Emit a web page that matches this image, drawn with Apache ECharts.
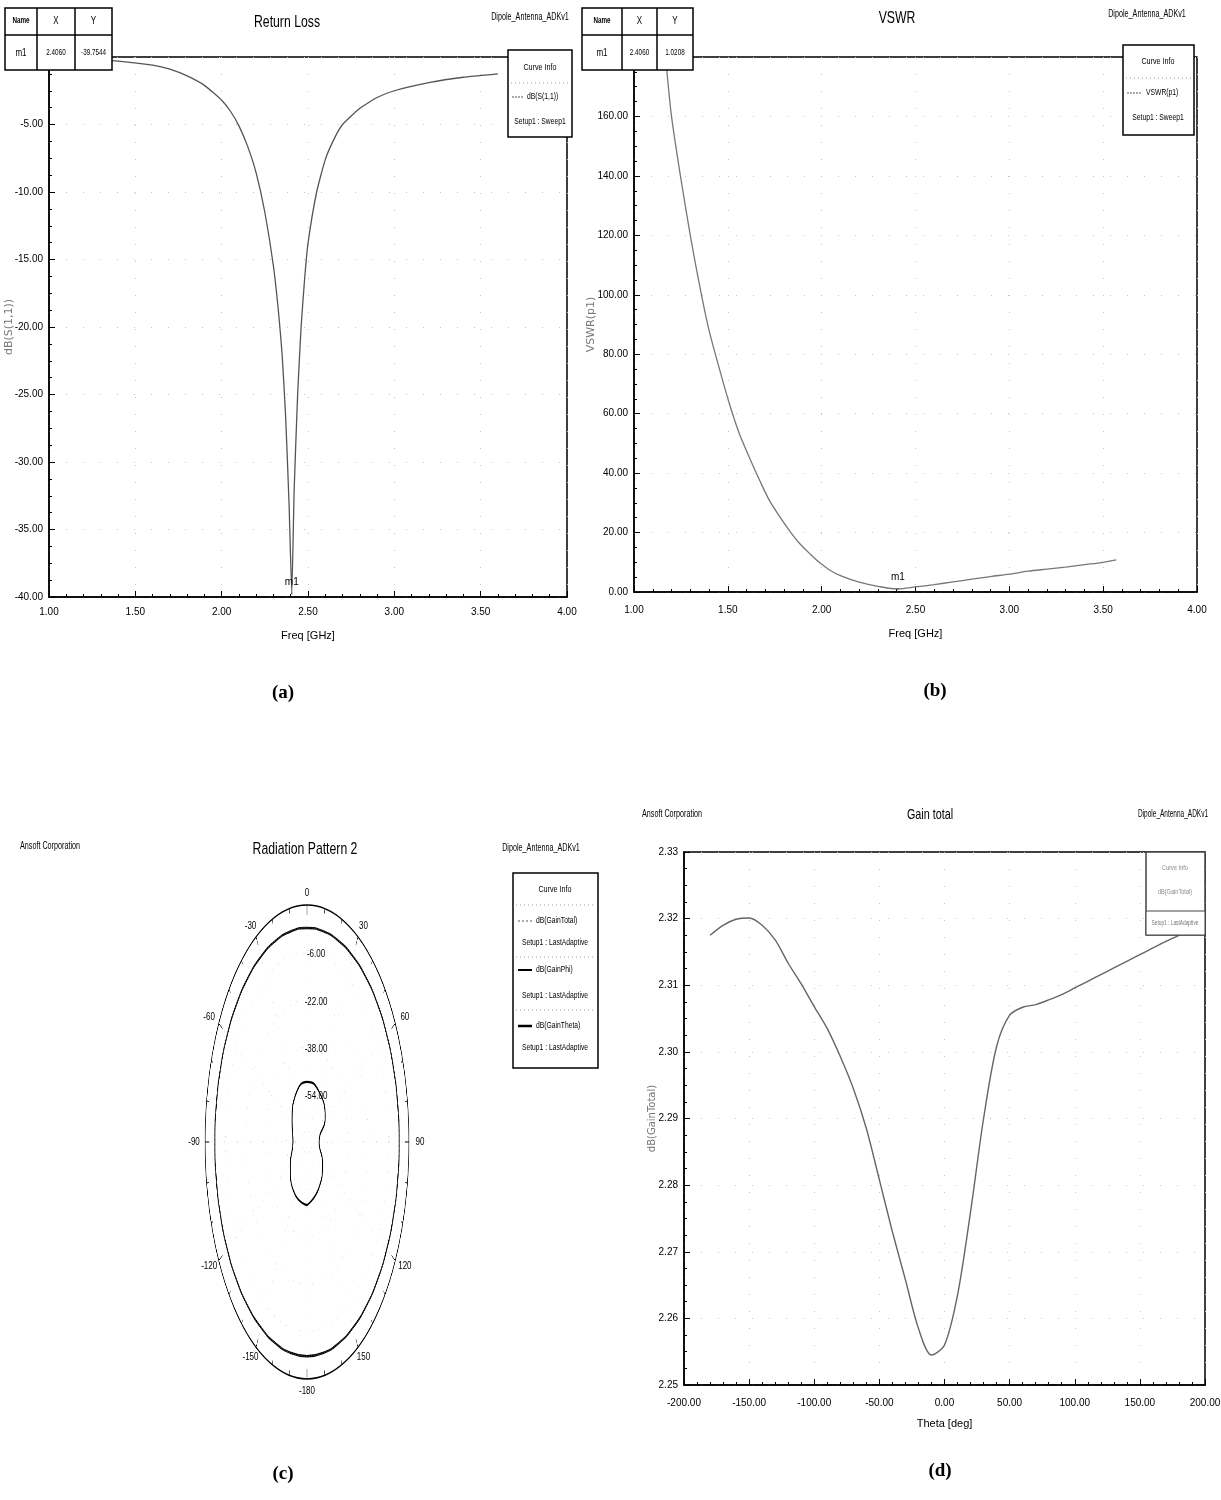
<!DOCTYPE html>
<html>
<head>
<meta charset="utf-8">
<title>Dipole antenna results</title>
<script src="https://cdn.jsdelivr.net/npm/echarts@6/dist/echarts.min.js"></script>
<style>
  html, body { margin: 0; padding: 0; background: #fff; }
  #wrap { position: relative; width: 1221px; height: 1500px; }
  #main { position: absolute; left: 0; top: 0; width: 1221px; height: 1500px; }
  #polar { position: absolute; left: 57px; top: 892px; width: 500px; height: 500px;
           transform: scaleX(0.43); transform-origin: 250px 250px; }
</style>
</head>
<body>
<div id="wrap">
  <div id="main"></div>
  <div id="polar"></div>
</div>
<script>
// (a) return loss, dB(S(1,1)) vs Freq [GHz]
const freqRL = [1.00, 1.20, 1.40, 1.60, 1.70, 1.80, 1.90, 2.00, 2.05, 2.10, 2.15, 2.20, 2.25, 2.30, 2.33, 2.35, 2.37, 2.39, 2.406,
                2.42, 2.44, 2.46, 2.48, 2.50, 2.55, 2.60, 2.65, 2.70, 2.80, 2.90, 3.00, 3.20, 3.40, 3.60];
const s11 = [-0.05, -0.15, -0.3, -0.6, -0.9, -1.4, -2.1, -3.2, -4.0, -5.1, -6.6, -8.6, -11.5, -15.5, -19.0, -22.0, -26.5, -33.0, -39.75,
             -32.0, -25.0, -20.0, -16.5, -13.8, -10.0, -7.6, -6.1, -5.0, -3.8, -3.0, -2.5, -1.9, -1.5, -1.25];

// (b) VSWR(p1) vs Freq [GHz]
const freqVSWR = [1.17, 1.20, 1.25, 1.30, 1.35, 1.40, 1.46, 1.51, 1.56, 1.62, 1.67, 1.72, 1.78, 1.83, 1.88, 1.94, 1.99, 2.04, 2.10,
                  2.20, 2.30, 2.406, 2.50, 2.60, 2.70, 2.80, 2.90, 3.00, 3.10, 3.20, 3.30, 3.40, 3.50, 3.57];
const vswr = [179, 160, 139, 120, 103, 88, 74, 63, 53.5, 44.5, 37.5, 31, 25, 20.5, 16.5, 12.7, 9.8, 7.5, 5.5,
              3.3, 1.9, 1.02, 1.7, 2.5, 3.4, 4.3, 5.2, 6.0, 7.0, 7.7, 8.4, 9.2, 10.0, 10.8];

// (d) dB(GainTotal) vs Theta [deg]  (also the GainTotal / GainPhi ring in (c))
const theta = [-180, -170, -160, -150, -140, -130, -120, -110, -100, -90, -80, -70, -60, -50, -40, -30, -20, -10, 0,
               10, 20, 30, 40, 50, 60, 70, 80, 90, 100, 110, 120, 130, 140, 150, 160, 170, 180];
const gainTotal = [2.3175, 2.3190, 2.3199, 2.3201, 2.3190, 2.3168, 2.3133, 2.3102, 2.3068, 2.3035, 2.2993, 2.2945, 2.2885,
                   2.2808, 2.2730, 2.2658, 2.2585, 2.2545, 2.2560, 2.2635, 2.2760, 2.2900, 2.3008, 2.3055, 2.3067, 2.3071,
                   2.3078, 2.3086, 2.3096, 2.3106, 2.3116, 2.3126, 2.3136, 2.3146, 2.3156, 2.3166, 2.3175];

// (c) dB(GainTheta) on the polar plot
const thetaPolar = [-180, -150, -120, -90, -60, -30, 0, 30, 60, 90, 120, 150, 180];
const gainTheta = [-48.7, -50.1, -54.8, -59.0, -56.5, -51.8, -49.7, -50.6, -53.5, -60.5, -55.9, -51.8, -48.7];

// tick labels
const angleLabels = [0, 30, 60, 90, 120, 150, -180, -150, -120, -90, -60, -30];
const radialLabels = [-6, -22, -38, -54];

const m1 = { x: 2.4060, rl: -39.7544, vswr: 1.0208 };

const FONT = '"Liberation Sans Narrow", "Liberation Sans", sans-serif';
const fix2 = v => v.toFixed(2);

function valueAxis(grid, min, max, step, minorSplit, name, gap, extra) {
  return Object.assign({
    type: 'value', gridIndex: grid, min: min, max: max, interval: step,
    name: name, nameLocation: 'middle', nameGap: gap, nameMoveOverlap: false,
    nameTextStyle: { fontFamily: FONT, fontSize: 11, color: '#000' },
    axisLine: { show: true, onZero: false, lineStyle: { color: '#000', width: 1.5 } },
    axisTick: { show: true, inside: true, length: 6, lineStyle: { color: '#000', width: 1 } },
    minorTick: { show: true, splitNumber: minorSplit, length: 3, lineStyle: { color: '#000', width: 1 } },
    axisLabel: { formatter: fix2, fontFamily: FONT, fontSize: 10, color: '#000', margin: 6 },
    splitLine: { show: true, lineStyle: { color: '#c4c4c4', width: 1, type: [1, 16] } }
  }, extra || {});
}

// ---- graphic helpers (titles, tables, legends, captions)
const G = [];
function txt(x, y, s, o) {
  o = o || {};
  G.push({ type: 'text', x: x, y: y, z: 50, scaleX: o.sx || 0.8, style: {
    text: s, fontFamily: o.font || FONT, fontSize: o.size || 10, fontWeight: o.weight || 'normal',
    fill: o.color || '#000', align: o.align || 'center', verticalAlign: 'middle' } });
}
function line(x1, y1, x2, y2, o) {
  o = o || {};
  G.push({ type: 'line', z: 50, shape: { x1: x1, y1: y1, x2: x2, y2: y2 },
    style: { stroke: o.color || '#000', lineWidth: o.w || 1, lineDash: o.dash || null } });
}
function box(x, y, w, h, o) {
  o = o || {};
  G.push({ type: 'rect', z: 49, shape: { x: x, y: y, width: w, height: h },
    style: { fill: '#fff', stroke: o.color || '#000', lineWidth: o.w || 1.5 } });
}
function markerTable(x, y, cw, xv, yv) {
  const w = cw[0] + cw[1] + cw[2];
  box(x, y, w, 62);
  line(x, y + 27, x + w, y + 27, { w: 1.5 });
  line(x + cw[0], y, x + cw[0], y + 62, { w: 1.5 });
  line(x + cw[0] + cw[1], y, x + cw[0] + cw[1], y + 62, { w: 1.5 });
  const c = [x + cw[0] / 2, x + cw[0] + cw[1] / 2, x + cw[0] + cw[1] + cw[2] / 2];
  txt(c[0], y + 13, 'Name', { size: 9, weight: 'bold', sx: 0.7 });
  txt(c[1], y + 13, 'X', { size: 10 });
  txt(c[2], y + 13, 'Y', { size: 10 });
  txt(c[0], y + 45, 'm1', { size: 10 });
  txt(c[1], y + 45, xv.toFixed(4), { size: 9, sx: 0.7 });
  txt(c[2], y + 45, yv.toFixed(4), { size: 9, sx: 0.7 });
}
const serif = { size: 19, weight: 'bold', font: '"Liberation Serif", serif', sx: 1 };

// (a)
txt(287, 22, 'Return Loss', { size: 17, sx: 0.72 });
txt(530, 17, 'Dipole_Antenna_ADKv1', { size: 10, sx: 0.72 });
markerTable(5, 8, [32, 38, 37], m1.x, m1.rl);
box(508, 50, 64, 87);
txt(540, 68, 'Curve Info', { size: 9 });
line(511, 83, 569, 83, { color: '#999', dash: [1, 3] });
line(512, 97, 524, 97, { color: '#555', w: 1, dash: [2, 1] });
txt(527, 97, 'dB(S(1,1))', { size: 9, align: 'left', sx: 0.75 });
txt(540, 122, 'Setup1 : Sweep1', { size: 9, sx: 0.75 });
txt(283, 693, '(a)', serif);

// (b)
txt(897, 18, 'VSWR', { size: 17, sx: 0.72 });
txt(1147, 14, 'Dipole_Antenna_ADKv1', { size: 10, sx: 0.72 });
markerTable(582, 8, [40, 35, 36], m1.x, m1.vswr);
box(1123, 45, 71, 90);
txt(1158, 62, 'Curve Info', { size: 9 });
line(1126, 78, 1191, 78, { color: '#999', dash: [1, 3] });
line(1127, 93, 1141, 93, { color: '#555', w: 1, dash: [2, 1] });
txt(1146, 93, 'VSWR(p1)', { size: 9, align: 'left', sx: 0.75 });
txt(1158, 118, 'Setup1 : Sweep1', { size: 9, sx: 0.75 });
txt(935, 691, '(b)', serif);

// (c)
txt(50, 846, 'Ansoft Corporation', { size: 10, sx: 0.72 });
txt(305, 849, 'Radiation Pattern 2', { size: 17, sx: 0.72 });
txt(541, 848, 'Dipole_Antenna_ADKv1', { size: 10, sx: 0.72 });
box(513, 873, 85, 195);
txt(555, 890, 'Curve Info', { size: 9 });
line(516, 905, 595, 905, { color: '#999', dash: [1, 3] });
line(518, 921, 532, 921, { color: '#555', w: 1, dash: [2, 2] });
txt(536, 921, 'dB(GainTotal)', { size: 9, align: 'left', sx: 0.75 });
txt(555, 943, 'Setup1 : LastAdaptive', { size: 9, sx: 0.75 });
line(516, 957, 595, 957, { color: '#999', dash: [1, 3] });
line(518, 970, 532, 970, { w: 2 });
txt(536, 970, 'dB(GainPhi)', { size: 9, align: 'left', sx: 0.75 });
txt(555, 996, 'Setup1 : LastAdaptive', { size: 9, sx: 0.75 });
line(516, 1010, 595, 1010, { color: '#999', dash: [1, 3] });
line(518, 1026, 532, 1026, { w: 2.5 });
txt(536, 1026, 'dB(GainTheta)', { size: 9, align: 'left', sx: 0.75 });
txt(555, 1048, 'Setup1 : LastAdaptive', { size: 9, sx: 0.75 });
txt(283, 1474, '(c)', serif);

// polar labels (the polar plot itself is stretched, so its text is drawn here)
const pc = { x: 307, y: 1142, rx: 102, ry: 237, rMin: -70, rMax: 10 };
angleLabels.forEach(function (a) {
  const t = a * Math.PI / 180;
  txt(pc.x + (pc.rx + 11) * Math.sin(t), pc.y - (pc.ry + 12) * Math.cos(t), String(a), { size: 10, sx: 0.8 });
});
radialLabels.forEach(function (v) {
  const r = (v - pc.rMin) / (pc.rMax - pc.rMin) * pc.ry;
  txt(pc.x + 9, pc.y - r + 2, v.toFixed(2), { size: 10, sx: 0.8 });
});

// (d)
txt(672, 814, 'Ansoft Corporation', { size: 10, sx: 0.72 });
txt(930, 815, 'Gain total', { size: 15, sx: 0.72 });
txt(1173, 814, 'Dipole_Antenna_ADKv1', { size: 10, sx: 0.65 });
box(1146, 852, 59, 83, { color: '#444', w: 1.5 });
txt(1175, 868, 'Curve Info', { size: 8, color: '#888', sx: 0.7 });
txt(1175, 892, 'dB(GainTotal)', { size: 8, color: '#888', sx: 0.7 });
box(1146, 911, 59, 24, { color: '#444', w: 1 });
txt(1175, 923, 'Setup1 : LastAdaptive', { size: 8, color: '#777', sx: 0.6 });
txt(940, 1471, '(d)', serif);

const gridBox = { show: true, borderColor: '#000', borderWidth: 1.5, backgroundColor: 'transparent', outerBoundsMode: 'none' };
const yName = { fontFamily: '"DejaVu Sans", sans-serif', fontSize: 11, color: '#777' };

const option = {
  animation: false,
  backgroundColor: '#fff',
  grid: [
    Object.assign({ left: 49, top: 57, width: 518, height: 540 }, gridBox),
    Object.assign({ left: 634, top: 57, width: 563, height: 535 }, gridBox),
    Object.assign({ left: 684, top: 852, width: 521, height: 533 }, gridBox)
  ],
  xAxis: [
    valueAxis(0, 1, 4, 0.5, 5, 'Freq [GHz]', 33, { axisLabel: { formatter: fix2, fontFamily: FONT, fontSize: 10, color: '#000', margin: 10 } }),
    valueAxis(1, 1, 4, 0.5, 5, 'Freq [GHz]', 36, { axisLabel: { formatter: fix2, fontFamily: FONT, fontSize: 10, color: '#000', margin: 13 } }),
    valueAxis(2, -200, 200, 50, 5, 'Theta [deg]', 33, { axisLabel: { formatter: fix2, fontFamily: FONT, fontSize: 10, color: '#000', margin: 13 } })
  ],
  yAxis: [
    valueAxis(0, -40, 0, 5, 4, 'dB(S(1,1))', 34, { nameTextStyle: yName }),
    valueAxis(1, 0, 180, 20, 4, 'VSWR(p1)', 37, { nameTextStyle: yName }),
    valueAxis(2, 2.25, 2.33, 0.01, 4, 'dB(GainTotal)', 27, { nameTextStyle: Object.assign({}, yName, { fontSize: 10 }) })
  ],
  series: [
    {
      name: 'dB(S(1,1))', type: 'line', xAxisIndex: 0, yAxisIndex: 0, showSymbol: false, smooth: 0.15,
      data: freqRL.map(function (f, i) { return [f, s11[i]]; }),
      lineStyle: { color: '#555', width: 1.3 },
      markPoint: {
        symbol: 'rect', symbolSize: 1, itemStyle: { color: '#000' },
        label: { show: true, position: 'top', distance: 6, formatter: 'm1', fontFamily: FONT, fontSize: 10, color: '#000' },
        data: [{ coord: [m1.x, m1.rl] }]
      }
    },
    {
      name: 'VSWR(p1)', type: 'line', xAxisIndex: 1, yAxisIndex: 1, showSymbol: false, smooth: 0.3,
      data: freqVSWR.map(function (f, i) { return [f, vswr[i]]; }),
      lineStyle: { color: '#777', width: 1.3 },
      markPoint: {
        symbol: 'rect', symbolSize: 1, itemStyle: { color: '#000' },
        label: { show: true, position: 'top', distance: 6, formatter: 'm1', fontFamily: FONT, fontSize: 10, color: '#000' },
        data: [{ coord: [m1.x, m1.vswr] }]
      }
    },
    {
      name: 'dB(GainTotal)', type: 'line', xAxisIndex: 2, yAxisIndex: 2, showSymbol: false, smooth: 0.3,
      data: theta.map(function (t, i) { return [t, gainTotal[i]]; }),
      lineStyle: { color: '#666', width: 1.4 }
    }
  ],
  graphic: G
};

echarts.init(document.getElementById('main')).setOption(option);

// (c) radiation pattern, polar, stretched into an ellipse with CSS
const polarOption = {
  animation: false,
  polar: { center: ['50%', '50%'], radius: 237 },
  angleAxis: {
    type: 'value', min: -180, max: 180, interval: 30, startAngle: 270, clockwise: true,
    axisLine: { show: true, lineStyle: { color: '#000', width: 1.6 } },
    axisTick: { show: true, inside: true, length: 10, lineStyle: { color: '#000', width: 1 } },
    minorTick: { show: true, splitNumber: 3, length: 5, lineStyle: { color: '#000', width: 1 } },
    axisLabel: { show: false },
    splitLine: { show: true, lineStyle: { color: '#bbb', width: 1, type: [1, 14] } }
  },
  radiusAxis: {
    type: 'value', min: -70, max: 10, interval: 16,
    axisLine: { show: false }, axisTick: { show: false }, axisLabel: { show: false },
    splitLine: { show: true, lineStyle: { color: '#bbb', width: 1, type: [1, 14] } }
  },
  series: [
    {
      name: 'dB(GainPhi)', type: 'line', coordinateSystem: 'polar', showSymbol: false, smooth: true,
      data: theta.map(function (t, i) { return [gainTotal[i], t]; }),
      lineStyle: { color: '#000', width: 2.4 }
    },
    {
      name: 'dB(GainTotal)', type: 'line', coordinateSystem: 'polar', showSymbol: false, smooth: true,
      data: theta.map(function (t, i) { return [gainTotal[i], t]; }),
      lineStyle: { color: '#444', width: 1, type: [3, 2] }
    },
    {
      name: 'dB(GainTheta)', type: 'line', coordinateSystem: 'polar', showSymbol: false, smooth: true,
      data: thetaPolar.map(function (t, i) { return [gainTheta[i], t]; }),
      lineStyle: { color: '#000', width: 2.2 }
    }
  ]
};
echarts.init(document.getElementById('polar')).setOption(polarOption);
</script>
</body>
</html>
